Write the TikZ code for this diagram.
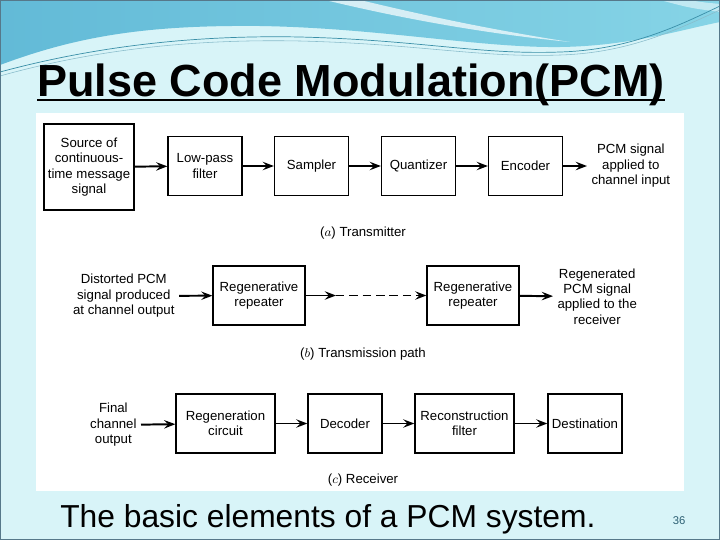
\documentclass[tikz,border=0pt]{standalone}
\usepackage{fontspec}
\setmainfont{Liberation Sans}
\usetikzlibrary{arrows.meta}
\definecolor{slidebg}{HTML}{D8F4F8}
\definecolor{bandleft}{HTML}{62BAD7}
\definecolor{bandright}{HTML}{86D4E6}
\definecolor{wavecol}{HTML}{3A8FA8}
\definecolor{framecol}{HTML}{56788A}
\definecolor{pagecol}{HTML}{2C5F73}
\newcommand{\pxu}{0.025cm}
\newcommand{\blkfont}{\fontsize{9.4}{11}\selectfont}

\begin{document}
\begin{tikzpicture}[x=\pxu,y=-\pxu,
  blk/.style={draw,line width=0.9pt,minimum width=74*\pxu,minimum height=59*\pxu,
    align=center,inner sep=1pt,font=\blkfont},
  lbl/.style={align=center,inner ysep=1pt,inner xsep=3pt,font=\blkfont},
  arr/.style={line width=1.4pt,-{Stealth[length=8pt,width=6pt,inset=3pt]}}]
\useasboundingbox (0,0) rectangle (720,540);
% slide background
\fill[slidebg] (0,0) rectangle (720,540);
\shade[left color=bandleft,right color=bandright] (0,0) -- (720,0) -- (720,22)
  .. controls (680,30) and (630,46) .. (560,47)
  .. controls (480,48) and (380,28) .. (260,26)
  .. controls (150,25) and (80,35) .. (0,65) -- cycle;
\fill[white,opacity=0.7] (325,0) .. controls (400,18) and (480,33) .. (570,42)
  .. controls (480,28) and (410,12) .. (360,0) -- cycle;
\fill[white,opacity=0.5] (660,0) .. controls (690,8) .. (720,12) -- (720,4) .. controls (700,2) .. (690,0) -- cycle;
\draw[wavecol,line width=0.5pt] (0,72) .. controls (100,45) and (200,35) .. (300,37)
  .. controls (420,40) and (480,55) .. (560,52) .. controls (630,50) and (680,25) .. (720,6);
\draw[wavecol!60,line width=0.4pt] (0,76) .. controls (100,48) and (200,39) .. (300,41)
  .. controls (420,44) and (480,58) .. (560,55) .. controls (630,53) and (680,28) .. (720,10);
\draw[framecol,line width=0.8pt] (0.5,0.5) rectangle (719.5,539.5);
% title
\node[anchor=base west,inner sep=0] (title) at (37,96)
  {\fontsize{32}{36}\selectfont\bfseries Pulse Code Modulation(PCM)};
\draw[line width=1.4pt] ([yshift=-3pt]title.base west) -- ([yshift=-3pt]title.base east);
\fill[white] (36,113) rectangle (684,491);

% (a) transmitter
\node[blk,minimum width=90*\pxu,minimum height=86*\pxu] (src) at (89,167)
  {Source of\\continuous-\\time message\\signal};
\node[blk] (lpf) at (205,166) {Low-pass\\filter};
\node[blk] (smp) at (311.5,166) {Sampler};
\node[blk] (qnt) at (418.5,166) {Quantizer};
\node[blk] (enc) at (525.5,166) {Encoder};
\node[lbl,anchor=west] (pcmout) at (587,166) {PCM signal\\applied to\\channel input};
\draw[arr] (src) -- (lpf);
\draw[arr] (lpf) -- (smp);
\draw[arr] (smp) -- (qnt);
\draw[arr] (qnt) -- (enc);
\draw[arr] (enc) -- (pcmout);
\node[lbl] (capa) at (363,233) {($a$) Transmitter};

% (b) transmission path
\node[lbl,anchor=east] (dist) at (179,296) {Distorted PCM\\signal produced\\at channel output};
\node[blk,minimum width=92*\pxu] (rep1) at (259,295.5) {Regenerative\\repeater};
\node[blk,minimum width=92*\pxu] (rep2) at (473,295.5) {Regenerative\\repeater};
\coordinate (gap) at (336,295.5);
\node[lbl,anchor=west] (regen) at (553,296.5) {Regenerated\\PCM signal\\applied to the\\receiver};
\draw[arr] (dist) -- (rep1);
\draw[arr] (rep1) -- (gap);
\draw[arr,dash pattern=on 6pt off 3.5pt] (gap) -- (rep2);
\draw[arr] (rep2) -- (regen);
\node[lbl] (capb) at (363,354) {($b$) Transmission path};

% (c) receiver
\node[lbl,anchor=east] (final) at (141,425) {Final\\channel\\output};
\node[blk,minimum width=99*\pxu] (rgc) at (225.5,423.5) {Regeneration\\circuit};
\node[blk] (dec) at (345,423.5) {Decoder};
\node[blk,minimum width=99*\pxu] (rcf) at (464.5,423.5) {Reconstruction\\filter};
\node[blk] (dst) at (585,423.5) {Destination};
\draw[arr] (final) -- (rgc);
\draw[arr] (rgc) -- (dec);
\draw[arr] (dec) -- (rcf);
\draw[arr] (rcf) -- (dst);
\node[lbl] (capc) at (363,480) {($c$) Receiver};

% caption and page number
\node[anchor=base west,inner sep=0] (caption) at (60,527)
  {\fontsize{22.6}{26}\selectfont The basic elements of a PCM system.};
\node[text=pagecol,inner sep=0] (pgnum) at (679,521) {\fontsize{8}{9}\selectfont 36};
\end{tikzpicture}
\end{document}
